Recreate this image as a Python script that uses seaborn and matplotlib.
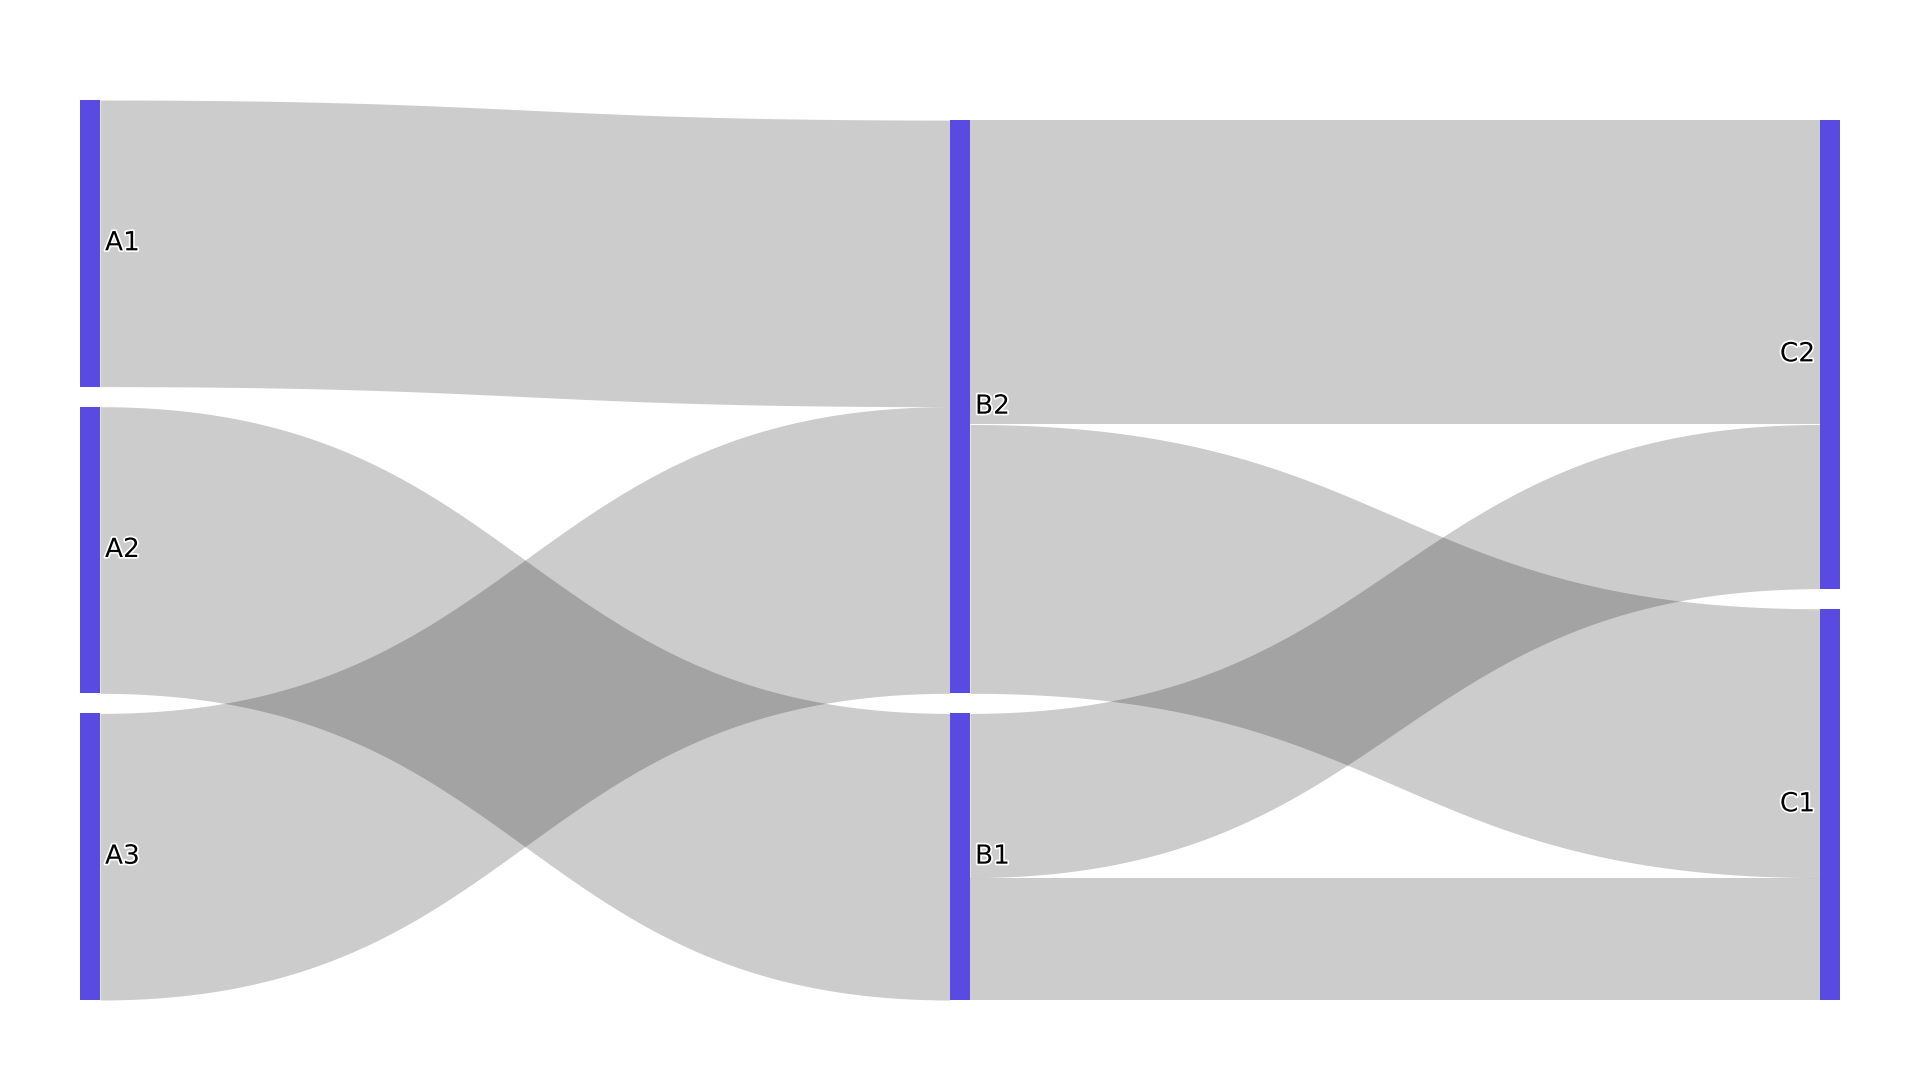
import numpy as np
import pandas as pd
import matplotlib
matplotlib.use("Agg")
import matplotlib.pyplot as plt
import matplotlib.patheffects as pe
import seaborn as sns

# ---- data ----
node_labels = ["A1", "A2", "A3", "B2", "B1", "C2", "C1"]
node_columns = [0, 0, 0, 1, 1, 2, 2]
link_source = ["A1", "A2", "A3", "B2", "B2", "B1", "B1"]
link_target = ["B2", "B1", "B2", "C2", "C1", "C2", "C1"]
link_value = [10, 10, 10, 10.62, 9.38, 5.73, 4.27]

NODE_COLOR = "#594ae1"
LINK_RGBA = (0, 0, 0, 0.2)

sns.set_theme(style="white")
plt.rcParams["font.family"] = ["DejaVu Sans"]

links = pd.DataFrame({"source": link_source, "target": link_target, "value": link_value})

# node sizes = max(in, out)
size = {}
for n in node_labels:
    vin = links.loc[links.target == n, "value"].sum()
    vout = links.loc[links.source == n, "value"].sum()
    size[n] = max(vin, vout)

PAD = 0.7  # gap between nodes in value units
col_nodes = {c: [n for n, cc in zip(node_labels, node_columns) if cc == c] for c in set(node_columns)}
col_span = {c: sum(size[n] for n in ns) + PAD * (len(ns) - 1) for c, ns in col_nodes.items()}
total_h = max(col_span.values())

# bottom-align columns
ypos = {}
for c, ns in col_nodes.items():
    y = total_h - col_span[c]
    for n in ns:
        ypos[n] = y
        y += size[n] + PAD
colx = dict(zip(node_labels, node_columns))

NW = 20 / 870  # node width in column units

fig = plt.figure(figsize=(19.2, 10.8), dpi=100)
ax = fig.add_axes([80 / 1920, 80 / 1080, 1760 / 1920, 900 / 1080])
ax.set_xlim(0, 2 + NW)
ax.set_ylim(total_h, 0)
ax.axis("off")

# link stacking offsets
out_off = {n: ypos[n] for n in node_labels}
in_off = {n: ypos[n] for n in node_labels}
t = np.linspace(0, 1, 200)
for s, d, v in zip(link_source, link_target, link_value):
    x0 = colx[s] + NW
    x1 = colx[d]
    xm = (x0 + x1) / 2
    y0 = out_off[s]
    y1 = in_off[d]
    out_off[s] += v
    in_off[d] += v
    bx = (1 - t) ** 3 * x0 + 3 * (1 - t) ** 2 * t * xm + 3 * (1 - t) * t ** 2 * xm + t ** 3 * x1
    h = 3 * t ** 2 - 2 * t ** 3
    top = y0 + (y1 - y0) * h
    ax.fill_between(bx, top, top + v, color=LINK_RGBA, linewidth=0)

# nodes
for n in node_labels:
    ax.bar(colx[n], size[n], width=NW, bottom=ypos[n], align="edge", color=NODE_COLOR, linewidth=0, zorder=3)

# labels
dx = 5 / 870
for n in node_labels:
    c = colx[n]
    yc = ypos[n] + size[n] / 2
    if c < 2:
        x, ha = c + NW + dx, "left"
    else:
        x, ha = c - dx, "right"
    ax.text(x, yc, n, ha=ha, va="center", fontsize=19, color="black", zorder=5,
            path_effects=[pe.withStroke(linewidth=2.5, foreground="white")])

fig.savefig("out.png", dpi=100, facecolor="white")
